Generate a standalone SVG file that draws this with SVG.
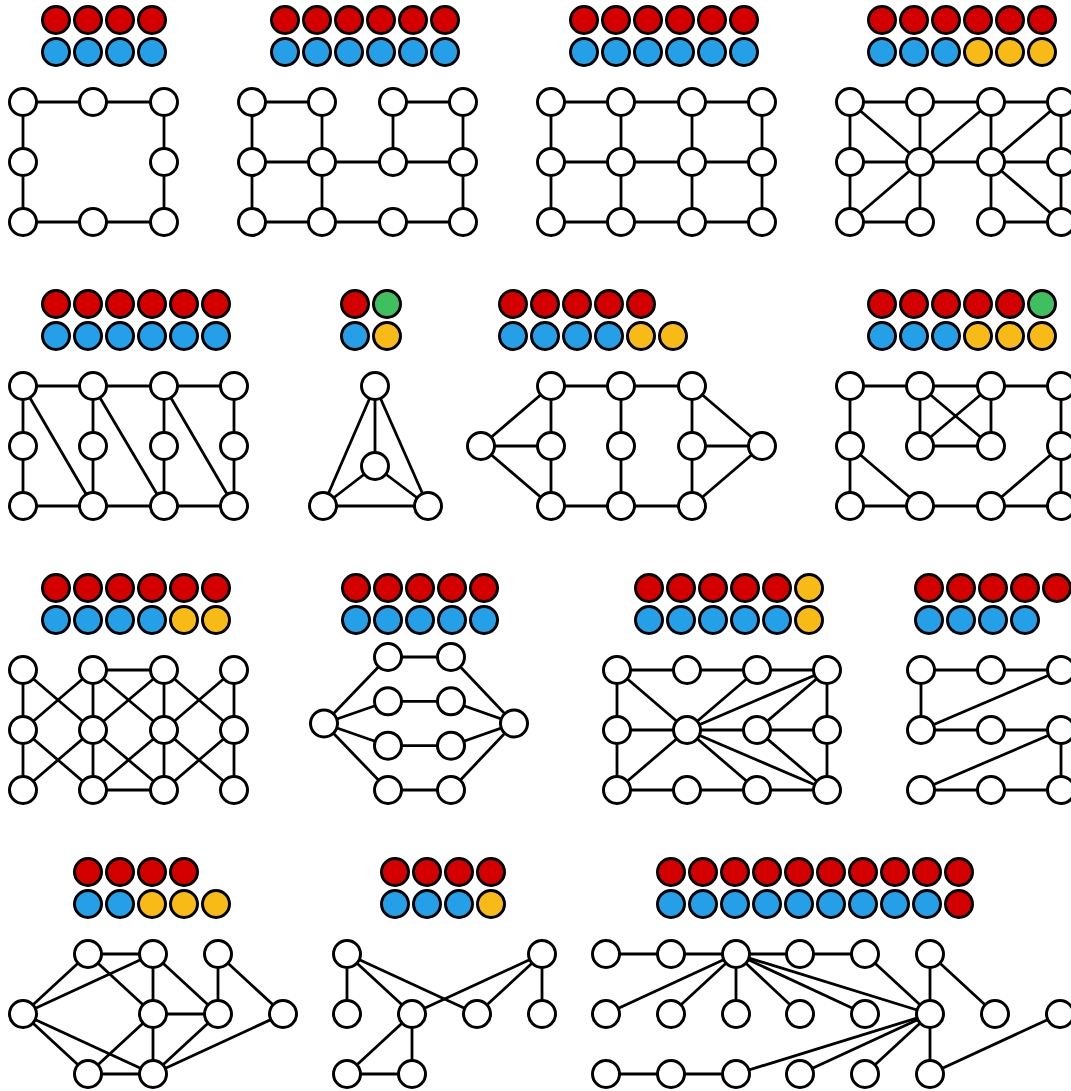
<svg xmlns="http://www.w3.org/2000/svg" width="1071" height="1091" viewBox="0 0 1071 1091">
<style>
circle{stroke:#000;stroke-width:3}
.n{fill:#fff}
.r{fill:#D40000}
.b{fill:#25A0E8}
.y{fill:#F8BA17}
.g{fill:#40BF60}
#edges line{stroke:#000;stroke-width:2.8}
</style>
<defs><circle id="c" r="13.5"/></defs>
<rect width="1071" height="1091" fill="#fff"/>
<g id="edges">
<!-- A -->
<line x1="23" y1="102" x2="164" y2="102"/><line x1="23" y1="102" x2="23" y2="222"/><line x1="164" y1="102" x2="164" y2="222"/><line x1="23" y1="222" x2="164" y2="222"/>
<!-- B -->
<line x1="252" y1="102" x2="322" y2="102"/><line x1="393" y1="102" x2="463" y2="102"/><line x1="252" y1="102" x2="252" y2="222"/><line x1="322" y1="102" x2="322" y2="222"/><line x1="393" y1="102" x2="393" y2="162"/><line x1="463" y1="102" x2="463" y2="222"/><line x1="252" y1="162" x2="463" y2="162"/><line x1="252" y1="222" x2="463" y2="222"/>
<!-- C -->
<line x1="551" y1="102" x2="762" y2="102"/><line x1="551" y1="162" x2="762" y2="162"/><line x1="551" y1="222" x2="762" y2="222"/><line x1="551" y1="102" x2="551" y2="222"/><line x1="621" y1="102" x2="621" y2="222"/><line x1="692" y1="102" x2="692" y2="222"/><line x1="762" y1="102" x2="762" y2="222"/>
<!-- D -->
<line x1="850" y1="102" x2="1061" y2="102"/><line x1="850" y1="162" x2="1061" y2="162"/><line x1="850" y1="222" x2="920" y2="222"/><line x1="991" y1="222" x2="1061" y2="222"/><line x1="850" y1="102" x2="850" y2="222"/><line x1="920" y1="102" x2="920" y2="222"/><line x1="991" y1="102" x2="991" y2="222"/><line x1="1061" y1="102" x2="1061" y2="222"/><line x1="850" y1="102" x2="920" y2="162"/><line x1="920" y1="162" x2="991" y2="102"/><line x1="920" y1="162" x2="850" y2="222"/><line x1="991" y1="162" x2="1061" y2="102"/><line x1="991" y1="162" x2="1061" y2="222"/>
<!-- E -->
<line x1="23" y1="386" x2="234" y2="386"/><line x1="23" y1="506" x2="234" y2="506"/><line x1="23" y1="386" x2="23" y2="506"/><line x1="93" y1="386" x2="93" y2="506"/><line x1="164" y1="386" x2="164" y2="506"/><line x1="234" y1="386" x2="234" y2="506"/><line x1="23" y1="386" x2="93" y2="506"/><line x1="93" y1="386" x2="164" y2="506"/><line x1="164" y1="386" x2="234" y2="506"/>
<!-- F -->
<line x1="375" y1="386" x2="375" y2="466"/><line x1="375" y1="386" x2="323" y2="506"/><line x1="375" y1="386" x2="428" y2="506"/><line x1="375" y1="466" x2="323" y2="506"/><line x1="375" y1="466" x2="428" y2="506"/><line x1="323" y1="506" x2="428" y2="506"/>
<!-- G -->
<line x1="551" y1="386" x2="692" y2="386"/><line x1="551" y1="506" x2="692" y2="506"/><line x1="551" y1="386" x2="551" y2="506"/><line x1="621" y1="386" x2="621" y2="506"/><line x1="692" y1="386" x2="692" y2="506"/><line x1="481" y1="446" x2="551" y2="386"/><line x1="481" y1="446" x2="551" y2="446"/><line x1="481" y1="446" x2="551" y2="506"/><line x1="762" y1="446" x2="692" y2="386"/><line x1="762" y1="446" x2="692" y2="446"/><line x1="762" y1="446" x2="692" y2="506"/>
<!-- H -->
<line x1="850" y1="386" x2="1061" y2="386"/><line x1="850" y1="506" x2="1061" y2="506"/><line x1="850" y1="386" x2="850" y2="506"/><line x1="1061" y1="386" x2="1061" y2="506"/><line x1="920" y1="386" x2="920" y2="446"/><line x1="991" y1="386" x2="991" y2="446"/><line x1="920" y1="386" x2="991" y2="446"/><line x1="991" y1="386" x2="920" y2="446"/><line x1="920" y1="446" x2="991" y2="446"/><line x1="850" y1="446" x2="920" y2="506"/><line x1="1061" y1="446" x2="991" y2="506"/>
<!-- I -->
<line x1="93" y1="670" x2="164" y2="670"/><line x1="93" y1="790" x2="164" y2="790"/><line x1="23" y1="670" x2="23" y2="790"/><line x1="93" y1="670" x2="93" y2="790"/><line x1="164" y1="670" x2="164" y2="790"/><line x1="234" y1="670" x2="234" y2="790"/>
<line x1="23" y1="670" x2="93" y2="730"/><line x1="23" y1="730" x2="93" y2="670"/><line x1="23" y1="730" x2="93" y2="790"/><line x1="23" y1="790" x2="93" y2="730"/>
<line x1="93" y1="670" x2="164" y2="730"/><line x1="93" y1="730" x2="164" y2="670"/><line x1="93" y1="730" x2="164" y2="790"/><line x1="93" y1="790" x2="164" y2="730"/>
<line x1="164" y1="670" x2="234" y2="730"/><line x1="164" y1="730" x2="234" y2="670"/><line x1="164" y1="730" x2="234" y2="790"/><line x1="164" y1="790" x2="234" y2="730"/>
<!-- J -->
<line x1="388" y1="657" x2="451" y2="657"/><line x1="388" y1="701.3" x2="451" y2="701.3"/><line x1="388" y1="745.7" x2="451" y2="745.7"/><line x1="388" y1="790" x2="451" y2="790"/>
<line x1="324" y1="723.5" x2="388" y2="657"/><line x1="324" y1="723.5" x2="388" y2="701.3"/><line x1="324" y1="723.5" x2="388" y2="745.7"/><line x1="324" y1="723.5" x2="388" y2="790"/>
<line x1="514" y1="723.5" x2="451" y2="657"/><line x1="514" y1="723.5" x2="451" y2="701.3"/><line x1="514" y1="723.5" x2="451" y2="745.7"/><line x1="514" y1="723.5" x2="451" y2="790"/>
<!-- K -->
<line x1="617" y1="670" x2="827" y2="670"/><line x1="617" y1="730" x2="827" y2="730"/><line x1="617" y1="790" x2="827" y2="790"/><line x1="617" y1="670" x2="617" y2="790"/><line x1="827" y1="670" x2="827" y2="790"/>
<line x1="687" y1="730" x2="617" y2="670"/><line x1="687" y1="730" x2="757" y2="670"/><line x1="687" y1="730" x2="827" y2="670"/><line x1="687" y1="730" x2="617" y2="790"/><line x1="687" y1="730" x2="757" y2="790"/><line x1="687" y1="730" x2="827" y2="790"/><line x1="757" y1="730" x2="827" y2="670"/><line x1="757" y1="730" x2="827" y2="790"/>
<!-- L -->
<line x1="921" y1="670" x2="1061" y2="670"/><line x1="921" y1="670" x2="921" y2="730"/><line x1="921" y1="730" x2="1061" y2="670"/><line x1="921" y1="730" x2="1061" y2="730"/><line x1="921" y1="790" x2="1061" y2="730"/><line x1="1061" y1="730" x2="1061" y2="790"/><line x1="921" y1="790" x2="1061" y2="790"/>
<!-- M -->
<line x1="88" y1="954" x2="153" y2="954"/><line x1="88" y1="954" x2="23" y2="1014"/><line x1="153" y1="954" x2="23" y2="1014"/><line x1="88" y1="954" x2="153" y2="1014"/><line x1="153" y1="954" x2="153" y2="1074"/><line x1="153" y1="954" x2="218" y2="1014"/><line x1="218" y1="954" x2="218" y2="1014"/><line x1="218" y1="954" x2="283" y2="1014"/><line x1="153" y1="1014" x2="218" y2="1014"/><line x1="23" y1="1014" x2="88" y2="1074"/><line x1="23" y1="1014" x2="153" y2="1074"/><line x1="153" y1="1014" x2="88" y2="1074"/><line x1="218" y1="1014" x2="153" y2="1074"/><line x1="283" y1="1014" x2="153" y2="1074"/><line x1="88" y1="1074" x2="153" y2="1074"/>
<!-- N -->
<line x1="347" y1="954" x2="347" y2="1014"/><line x1="347" y1="954" x2="412" y2="1014"/><line x1="347" y1="954" x2="477" y2="1014"/><line x1="542" y1="954" x2="412" y2="1014"/><line x1="542" y1="954" x2="477" y2="1014"/><line x1="542" y1="954" x2="542" y2="1014"/><line x1="412" y1="1014" x2="347" y2="1074"/><line x1="412" y1="1014" x2="412" y2="1074"/><line x1="347" y1="1074" x2="412" y2="1074"/>
<!-- O -->
<line x1="606" y1="954" x2="865" y2="954"/>
<line x1="736" y1="954" x2="606" y2="1014"/><line x1="736" y1="954" x2="671" y2="1014"/><line x1="736" y1="954" x2="736" y2="1014"/><line x1="736" y1="954" x2="800" y2="1014"/><line x1="736" y1="954" x2="865" y2="1014"/><line x1="736" y1="954" x2="930" y2="1014"/>
<line x1="865" y1="954" x2="930" y2="1014"/><line x1="930" y1="954" x2="930" y2="1074"/><line x1="930" y1="954" x2="995" y2="1014"/>
<line x1="930" y1="1014" x2="736" y2="1074"/><line x1="930" y1="1014" x2="800" y2="1074"/><line x1="930" y1="1014" x2="865" y2="1074"/><line x1="1060" y1="1014" x2="930" y2="1074"/>
<line x1="606" y1="1074" x2="736" y2="1074"/>
</g>
<!-- legends -->
<g id="legendA"><use href="#c" class="r" x="56" y="20"/><use href="#c" class="r" x="88" y="20"/><use href="#c" class="r" x="120" y="20"/><use href="#c" class="r" x="152" y="20"/><use href="#c" class="b" x="56" y="52"/><use href="#c" class="b" x="88" y="52"/><use href="#c" class="b" x="120" y="52"/><use href="#c" class="b" x="152" y="52"/></g>
<g id="legendB"><use href="#c" class="r" x="285" y="20"/><use href="#c" class="r" x="317" y="20"/><use href="#c" class="r" x="349" y="20"/><use href="#c" class="r" x="381" y="20"/><use href="#c" class="r" x="413" y="20"/><use href="#c" class="r" x="445" y="20"/><use href="#c" class="b" x="285" y="52"/><use href="#c" class="b" x="317" y="52"/><use href="#c" class="b" x="349" y="52"/><use href="#c" class="b" x="381" y="52"/><use href="#c" class="b" x="413" y="52"/><use href="#c" class="b" x="445" y="52"/></g>
<g id="legendC"><use href="#c" class="r" x="584" y="20"/><use href="#c" class="r" x="616" y="20"/><use href="#c" class="r" x="648" y="20"/><use href="#c" class="r" x="680" y="20"/><use href="#c" class="r" x="712" y="20"/><use href="#c" class="r" x="744" y="20"/><use href="#c" class="b" x="584" y="52"/><use href="#c" class="b" x="616" y="52"/><use href="#c" class="b" x="648" y="52"/><use href="#c" class="b" x="680" y="52"/><use href="#c" class="b" x="712" y="52"/><use href="#c" class="b" x="744" y="52"/></g>
<g id="legendD"><use href="#c" class="r" x="882" y="20"/><use href="#c" class="r" x="914" y="20"/><use href="#c" class="r" x="946" y="20"/><use href="#c" class="r" x="978" y="20"/><use href="#c" class="r" x="1010" y="20"/><use href="#c" class="r" x="1042" y="20"/><use href="#c" class="b" x="882" y="52"/><use href="#c" class="b" x="914" y="52"/><use href="#c" class="b" x="946" y="52"/><use href="#c" class="y" x="978" y="52"/><use href="#c" class="y" x="1010" y="52"/><use href="#c" class="y" x="1042" y="52"/></g>
<g id="legendE"><use href="#c" class="r" x="56" y="304"/><use href="#c" class="r" x="88" y="304"/><use href="#c" class="r" x="120" y="304"/><use href="#c" class="r" x="152" y="304"/><use href="#c" class="r" x="184" y="304"/><use href="#c" class="r" x="216" y="304"/><use href="#c" class="b" x="56" y="336"/><use href="#c" class="b" x="88" y="336"/><use href="#c" class="b" x="120" y="336"/><use href="#c" class="b" x="152" y="336"/><use href="#c" class="b" x="184" y="336"/><use href="#c" class="b" x="216" y="336"/></g>
<g id="legendF"><use href="#c" class="r" x="355" y="304"/><use href="#c" class="g" x="387" y="304"/><use href="#c" class="b" x="355" y="336"/><use href="#c" class="y" x="387" y="336"/></g>
<g id="legendG"><use href="#c" class="r" x="513" y="304"/><use href="#c" class="r" x="545" y="304"/><use href="#c" class="r" x="577" y="304"/><use href="#c" class="r" x="609" y="304"/><use href="#c" class="r" x="641" y="304"/><use href="#c" class="b" x="513" y="336"/><use href="#c" class="b" x="545" y="336"/><use href="#c" class="b" x="577" y="336"/><use href="#c" class="b" x="609" y="336"/><use href="#c" class="y" x="641" y="336"/><use href="#c" class="y" x="673" y="336"/></g>
<g id="legendH"><use href="#c" class="r" x="882" y="304"/><use href="#c" class="r" x="914" y="304"/><use href="#c" class="r" x="946" y="304"/><use href="#c" class="r" x="978" y="304"/><use href="#c" class="r" x="1010" y="304"/><use href="#c" class="g" x="1042" y="304"/><use href="#c" class="b" x="882" y="336"/><use href="#c" class="b" x="914" y="336"/><use href="#c" class="b" x="946" y="336"/><use href="#c" class="y" x="978" y="336"/><use href="#c" class="y" x="1010" y="336"/><use href="#c" class="y" x="1042" y="336"/></g>
<g id="legendI"><use href="#c" class="r" x="56" y="588"/><use href="#c" class="r" x="88" y="588"/><use href="#c" class="r" x="120" y="588"/><use href="#c" class="r" x="152" y="588"/><use href="#c" class="r" x="184" y="588"/><use href="#c" class="r" x="216" y="588"/><use href="#c" class="b" x="56" y="620"/><use href="#c" class="b" x="88" y="620"/><use href="#c" class="b" x="120" y="620"/><use href="#c" class="b" x="152" y="620"/><use href="#c" class="y" x="184" y="620"/><use href="#c" class="y" x="216" y="620"/></g>
<g id="legendJ"><use href="#c" class="r" x="356" y="588"/><use href="#c" class="r" x="388" y="588"/><use href="#c" class="r" x="420" y="588"/><use href="#c" class="r" x="452" y="588"/><use href="#c" class="r" x="484" y="588"/><use href="#c" class="b" x="356" y="620"/><use href="#c" class="b" x="388" y="620"/><use href="#c" class="b" x="420" y="620"/><use href="#c" class="b" x="452" y="620"/><use href="#c" class="b" x="484" y="620"/></g>
<g id="legendK"><use href="#c" class="r" x="649" y="588"/><use href="#c" class="r" x="681" y="588"/><use href="#c" class="r" x="713" y="588"/><use href="#c" class="r" x="745" y="588"/><use href="#c" class="r" x="777" y="588"/><use href="#c" class="y" x="809" y="588"/><use href="#c" class="b" x="649" y="620"/><use href="#c" class="b" x="681" y="620"/><use href="#c" class="b" x="713" y="620"/><use href="#c" class="b" x="745" y="620"/><use href="#c" class="b" x="777" y="620"/><use href="#c" class="y" x="809" y="620"/></g>
<g id="legendL"><use href="#c" class="r" x="929" y="588"/><use href="#c" class="r" x="961" y="588"/><use href="#c" class="r" x="993" y="588"/><use href="#c" class="r" x="1025" y="588"/><use href="#c" class="r" x="1057" y="588"/><use href="#c" class="b" x="929" y="620"/><use href="#c" class="b" x="961" y="620"/><use href="#c" class="b" x="993" y="620"/><use href="#c" class="b" x="1025" y="620"/></g>
<g id="legendM"><use href="#c" class="r" x="88" y="872"/><use href="#c" class="r" x="120" y="872"/><use href="#c" class="r" x="152" y="872"/><use href="#c" class="r" x="184" y="872"/><use href="#c" class="b" x="88" y="904"/><use href="#c" class="b" x="120" y="904"/><use href="#c" class="y" x="152" y="904"/><use href="#c" class="y" x="184" y="904"/><use href="#c" class="y" x="216" y="904"/></g>
<g id="legendN"><use href="#c" class="r" x="395" y="872"/><use href="#c" class="r" x="427" y="872"/><use href="#c" class="r" x="459" y="872"/><use href="#c" class="r" x="491" y="872"/><use href="#c" class="b" x="395" y="904"/><use href="#c" class="b" x="427" y="904"/><use href="#c" class="b" x="459" y="904"/><use href="#c" class="y" x="491" y="904"/></g>
<g id="legendO"><use href="#c" class="r" x="671" y="872"/><use href="#c" class="r" x="703" y="872"/><use href="#c" class="r" x="735" y="872"/><use href="#c" class="r" x="767" y="872"/><use href="#c" class="r" x="799" y="872"/><use href="#c" class="r" x="831" y="872"/><use href="#c" class="r" x="863" y="872"/><use href="#c" class="r" x="895" y="872"/><use href="#c" class="r" x="927" y="872"/><use href="#c" class="r" x="959" y="872"/><use href="#c" class="b" x="671" y="904"/><use href="#c" class="b" x="703" y="904"/><use href="#c" class="b" x="735" y="904"/><use href="#c" class="b" x="767" y="904"/><use href="#c" class="b" x="799" y="904"/><use href="#c" class="b" x="831" y="904"/><use href="#c" class="b" x="863" y="904"/><use href="#c" class="b" x="895" y="904"/><use href="#c" class="b" x="927" y="904"/><use href="#c" class="r" x="959" y="904"/></g>
<!-- nodes -->
<g id="nodesA"><g id="A1"><use href="#c" class="n" x="23" y="102"/></g><g id="A2"><use href="#c" class="n" x="93" y="102"/></g><g id="A3"><use href="#c" class="n" x="164" y="102"/></g><g id="A4"><use href="#c" class="n" x="23" y="162"/></g><g id="A5"><use href="#c" class="n" x="164" y="162"/></g><g id="A6"><use href="#c" class="n" x="23" y="222"/></g><g id="A7"><use href="#c" class="n" x="93" y="222"/></g><g id="A8"><use href="#c" class="n" x="164" y="222"/></g></g>
<g id="nodesB"><g id="B1"><use href="#c" class="n" x="252" y="102"/></g><g id="B2"><use href="#c" class="n" x="322" y="102"/></g><g id="B3"><use href="#c" class="n" x="393" y="102"/></g><g id="B4"><use href="#c" class="n" x="463" y="102"/></g><g id="B5"><use href="#c" class="n" x="252" y="162"/></g><g id="B6"><use href="#c" class="n" x="322" y="162"/></g><g id="B7"><use href="#c" class="n" x="393" y="162"/></g><g id="B8"><use href="#c" class="n" x="463" y="162"/></g><g id="B9"><use href="#c" class="n" x="252" y="222"/></g><g id="B10"><use href="#c" class="n" x="322" y="222"/></g><g id="B11"><use href="#c" class="n" x="393" y="222"/></g><g id="B12"><use href="#c" class="n" x="463" y="222"/></g></g>
<g id="nodesC"><g id="C1"><use href="#c" class="n" x="551" y="102"/></g><g id="C2"><use href="#c" class="n" x="621" y="102"/></g><g id="C3"><use href="#c" class="n" x="692" y="102"/></g><g id="C4"><use href="#c" class="n" x="762" y="102"/></g><g id="C5"><use href="#c" class="n" x="551" y="162"/></g><g id="C6"><use href="#c" class="n" x="621" y="162"/></g><g id="C7"><use href="#c" class="n" x="692" y="162"/></g><g id="C8"><use href="#c" class="n" x="762" y="162"/></g><g id="C9"><use href="#c" class="n" x="551" y="222"/></g><g id="C10"><use href="#c" class="n" x="621" y="222"/></g><g id="C11"><use href="#c" class="n" x="692" y="222"/></g><g id="C12"><use href="#c" class="n" x="762" y="222"/></g></g>
<g id="nodesD"><g id="D1"><use href="#c" class="n" x="850" y="102"/></g><g id="D2"><use href="#c" class="n" x="920" y="102"/></g><g id="D3"><use href="#c" class="n" x="991" y="102"/></g><g id="D4"><use href="#c" class="n" x="1061" y="102"/></g><g id="D5"><use href="#c" class="n" x="850" y="162"/></g><g id="D6"><use href="#c" class="n" x="920" y="162"/></g><g id="D7"><use href="#c" class="n" x="991" y="162"/></g><g id="D8"><use href="#c" class="n" x="1061" y="162"/></g><g id="D9"><use href="#c" class="n" x="850" y="222"/></g><g id="D10"><use href="#c" class="n" x="920" y="222"/></g><g id="D11"><use href="#c" class="n" x="991" y="222"/></g><g id="D12"><use href="#c" class="n" x="1061" y="222"/></g></g>
<g id="nodesE"><g id="E1"><use href="#c" class="n" x="23" y="386"/></g><g id="E2"><use href="#c" class="n" x="93" y="386"/></g><g id="E3"><use href="#c" class="n" x="164" y="386"/></g><g id="E4"><use href="#c" class="n" x="234" y="386"/></g><g id="E5"><use href="#c" class="n" x="23" y="446"/></g><g id="E6"><use href="#c" class="n" x="93" y="446"/></g><g id="E7"><use href="#c" class="n" x="164" y="446"/></g><g id="E8"><use href="#c" class="n" x="234" y="446"/></g><g id="E9"><use href="#c" class="n" x="23" y="506"/></g><g id="E10"><use href="#c" class="n" x="93" y="506"/></g><g id="E11"><use href="#c" class="n" x="164" y="506"/></g><g id="E12"><use href="#c" class="n" x="234" y="506"/></g></g>
<g id="nodesF"><g id="F1"><use href="#c" class="n" x="375" y="386"/></g><g id="F2"><use href="#c" class="n" x="375" y="466"/></g><g id="F3"><use href="#c" class="n" x="323" y="506"/></g><g id="F4"><use href="#c" class="n" x="428" y="506"/></g></g>
<g id="nodesG"><g id="G1"><use href="#c" class="n" x="481" y="446"/></g><g id="G2"><use href="#c" class="n" x="551" y="386"/></g><g id="G3"><use href="#c" class="n" x="621" y="386"/></g><g id="G4"><use href="#c" class="n" x="692" y="386"/></g><g id="G5"><use href="#c" class="n" x="551" y="446"/></g><g id="G6"><use href="#c" class="n" x="621" y="446"/></g><g id="G7"><use href="#c" class="n" x="692" y="446"/></g><g id="G8"><use href="#c" class="n" x="551" y="506"/></g><g id="G9"><use href="#c" class="n" x="621" y="506"/></g><g id="G10"><use href="#c" class="n" x="692" y="506"/></g><g id="G11"><use href="#c" class="n" x="762" y="446"/></g></g>
<g id="nodesH"><g id="H1"><use href="#c" class="n" x="850" y="386"/></g><g id="H2"><use href="#c" class="n" x="920" y="386"/></g><g id="H3"><use href="#c" class="n" x="991" y="386"/></g><g id="H4"><use href="#c" class="n" x="1061" y="386"/></g><g id="H5"><use href="#c" class="n" x="850" y="446"/></g><g id="H6"><use href="#c" class="n" x="920" y="446"/></g><g id="H7"><use href="#c" class="n" x="991" y="446"/></g><g id="H8"><use href="#c" class="n" x="1061" y="446"/></g><g id="H9"><use href="#c" class="n" x="850" y="506"/></g><g id="H10"><use href="#c" class="n" x="920" y="506"/></g><g id="H11"><use href="#c" class="n" x="991" y="506"/></g><g id="H12"><use href="#c" class="n" x="1061" y="506"/></g></g>
<g id="nodesI"><g id="I1"><use href="#c" class="n" x="23" y="670"/></g><g id="I2"><use href="#c" class="n" x="93" y="670"/></g><g id="I3"><use href="#c" class="n" x="164" y="670"/></g><g id="I4"><use href="#c" class="n" x="234" y="670"/></g><g id="I5"><use href="#c" class="n" x="23" y="730"/></g><g id="I6"><use href="#c" class="n" x="93" y="730"/></g><g id="I7"><use href="#c" class="n" x="164" y="730"/></g><g id="I8"><use href="#c" class="n" x="234" y="730"/></g><g id="I9"><use href="#c" class="n" x="23" y="790"/></g><g id="I10"><use href="#c" class="n" x="93" y="790"/></g><g id="I11"><use href="#c" class="n" x="164" y="790"/></g><g id="I12"><use href="#c" class="n" x="234" y="790"/></g></g>
<g id="nodesJ"><g id="J1"><use href="#c" class="n" x="324" y="723.5"/></g><g id="J2"><use href="#c" class="n" x="388" y="657"/></g><g id="J3"><use href="#c" class="n" x="451" y="657"/></g><g id="J4"><use href="#c" class="n" x="388" y="701.3"/></g><g id="J5"><use href="#c" class="n" x="451" y="701.3"/></g><g id="J6"><use href="#c" class="n" x="388" y="745.7"/></g><g id="J7"><use href="#c" class="n" x="451" y="745.7"/></g><g id="J8"><use href="#c" class="n" x="388" y="790"/></g><g id="J9"><use href="#c" class="n" x="451" y="790"/></g><g id="J10"><use href="#c" class="n" x="514" y="723.5"/></g></g>
<g id="nodesK"><g id="K1"><use href="#c" class="n" x="617" y="670"/></g><g id="K2"><use href="#c" class="n" x="687" y="670"/></g><g id="K3"><use href="#c" class="n" x="757" y="670"/></g><g id="K4"><use href="#c" class="n" x="827" y="670"/></g><g id="K5"><use href="#c" class="n" x="617" y="730"/></g><g id="K6"><use href="#c" class="n" x="687" y="730"/></g><g id="K7"><use href="#c" class="n" x="757" y="730"/></g><g id="K8"><use href="#c" class="n" x="827" y="730"/></g><g id="K9"><use href="#c" class="n" x="617" y="790"/></g><g id="K10"><use href="#c" class="n" x="687" y="790"/></g><g id="K11"><use href="#c" class="n" x="757" y="790"/></g><g id="K12"><use href="#c" class="n" x="827" y="790"/></g></g>
<g id="nodesL"><g id="L1"><use href="#c" class="n" x="921" y="670"/></g><g id="L2"><use href="#c" class="n" x="991" y="670"/></g><g id="L3"><use href="#c" class="n" x="1061" y="670"/></g><g id="L4"><use href="#c" class="n" x="921" y="730"/></g><g id="L5"><use href="#c" class="n" x="991" y="730"/></g><g id="L6"><use href="#c" class="n" x="1061" y="730"/></g><g id="L7"><use href="#c" class="n" x="921" y="790"/></g><g id="L8"><use href="#c" class="n" x="991" y="790"/></g><g id="L9"><use href="#c" class="n" x="1061" y="790"/></g></g>
<g id="nodesM"><g id="M1"><use href="#c" class="n" x="88" y="954"/></g><g id="M2"><use href="#c" class="n" x="153" y="954"/></g><g id="M3"><use href="#c" class="n" x="218" y="954"/></g><g id="M4"><use href="#c" class="n" x="23" y="1014"/></g><g id="M5"><use href="#c" class="n" x="153" y="1014"/></g><g id="M6"><use href="#c" class="n" x="218" y="1014"/></g><g id="M7"><use href="#c" class="n" x="283" y="1014"/></g><g id="M8"><use href="#c" class="n" x="88" y="1074"/></g><g id="M9"><use href="#c" class="n" x="153" y="1074"/></g></g>
<g id="nodesN"><g id="N1"><use href="#c" class="n" x="347" y="954"/></g><g id="N2"><use href="#c" class="n" x="542" y="954"/></g><g id="N3"><use href="#c" class="n" x="347" y="1014"/></g><g id="N4"><use href="#c" class="n" x="412" y="1014"/></g><g id="N5"><use href="#c" class="n" x="477" y="1014"/></g><g id="N6"><use href="#c" class="n" x="542" y="1014"/></g><g id="N7"><use href="#c" class="n" x="347" y="1074"/></g><g id="N8"><use href="#c" class="n" x="412" y="1074"/></g></g>
<g id="nodesO"><g id="O1"><use href="#c" class="n" x="606" y="954"/></g><g id="O2"><use href="#c" class="n" x="671" y="954"/></g><g id="O3"><use href="#c" class="n" x="736" y="954"/></g><g id="O4"><use href="#c" class="n" x="800" y="954"/></g><g id="O5"><use href="#c" class="n" x="865" y="954"/></g><g id="O6"><use href="#c" class="n" x="930" y="954"/></g><g id="O7"><use href="#c" class="n" x="606" y="1014"/></g><g id="O8"><use href="#c" class="n" x="671" y="1014"/></g><g id="O9"><use href="#c" class="n" x="736" y="1014"/></g><g id="O10"><use href="#c" class="n" x="800" y="1014"/></g><g id="O11"><use href="#c" class="n" x="865" y="1014"/></g><g id="O12"><use href="#c" class="n" x="930" y="1014"/></g><g id="O13"><use href="#c" class="n" x="995" y="1014"/></g><g id="O14"><use href="#c" class="n" x="1060" y="1014"/></g><g id="O15"><use href="#c" class="n" x="606" y="1074"/></g><g id="O16"><use href="#c" class="n" x="671" y="1074"/></g><g id="O17"><use href="#c" class="n" x="736" y="1074"/></g><g id="O18"><use href="#c" class="n" x="800" y="1074"/></g><g id="O19"><use href="#c" class="n" x="865" y="1074"/></g><g id="O20"><use href="#c" class="n" x="930" y="1074"/></g></g>
</svg>
